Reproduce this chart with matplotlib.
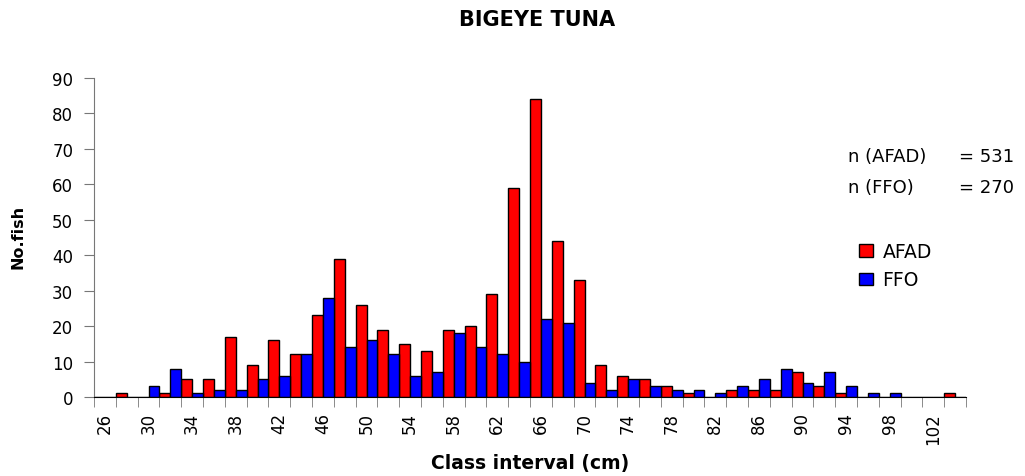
import numpy as np
import matplotlib
matplotlib.use('Agg')
import matplotlib.pyplot as plt

plt.rcParams['font.family'] = ['DejaVu Sans']

# class intervals (cm)
classes = list(range(26, 106, 2))

# counts per class
afad = [0, 1, 0, 1, 5, 5, 17, 9, 16, 12, 23, 39, 26, 19, 15, 13, 19, 20, 29, 59,
        84, 44, 33, 9, 6, 5, 3, 1, 0, 2, 2, 2, 7, 3, 1, 0, 0, 0, 0, 1]
ffo = [0, 0, 3, 8, 1, 2, 2, 5, 6, 12, 28, 14, 16, 12, 6, 7, 18, 14, 12, 10,
       22, 21, 4, 2, 5, 3, 2, 2, 1, 3, 5, 8, 4, 7, 3, 1, 1, 0, 0, 0]

x = np.arange(len(classes))

fig = plt.figure(figsize=(10.25, 4.77), dpi=100)
ax = fig.add_axes([94 / 1025, 79 / 477, 872 / 1025, 319 / 477])

w = 0.5
ax.bar(x - w / 2, afad, width=w, color='#FF0000', edgecolor='black', linewidth=1, label='AFAD')
ax.bar(x + w / 2, ffo, width=w, color='#0000FF', edgecolor='black', linewidth=1, label='FFO')

ax.set_xlim(-0.5, len(classes) - 0.5)
ax.set_ylim(0, 90)
ax.set_yticks(range(0, 91, 10))
ax.tick_params(axis='y', labelsize=12, length=7, color='#777777', pad=8)

# tick marks between categories, labels on every other category
ax.set_xticks(np.arange(-0.5, len(classes), 1), minor=True)
ax.set_xticks(x[::2])
ax.set_xticklabels([str(c) for c in classes[::2]], rotation=90, fontsize=12)
ax.tick_params(axis='x', which='major', length=0, pad=11)
ax.tick_params(axis='x', which='minor', length=7, color='#777777')

ax.spines['top'].set_visible(False)
ax.spines['right'].set_visible(False)
ax.spines['left'].set_color('#777777')
ax.spines['bottom'].set_color('black')

fig.text(18 / 1025, 1 - 237 / 477, 'No.fish', rotation=90, ha='center', va='center',
         fontsize=11.5, fontweight='bold')
fig.text(530 / 1025, 1 - 464 / 477, 'Class interval (cm)', ha='center', va='center',
         fontsize=13.5, fontweight='bold')
fig.text(537 / 1025, 1 - 20 / 477, 'BIGEYE TUNA', ha='center', va='center',
         fontsize=15, fontweight='bold')

fig.text(848 / 1025, 1 - 157 / 477, 'n (AFAD)', fontsize=13, va='center')
fig.text(1014 / 1025, 1 - 157 / 477, '= 531', fontsize=13, va='center', ha='right')
fig.text(848 / 1025, 1 - 188 / 477, 'n (FFO)', fontsize=13, va='center')
fig.text(1014 / 1025, 1 - 188 / 477, '= 270', fontsize=13, va='center', ha='right')

ax.legend(loc='upper left', bbox_to_anchor=(859 / 1025, 1 - 243 / 477),
          bbox_transform=fig.transFigure, frameon=False, fontsize=13.5,
          handlelength=0.75, handleheight=0.65, handletextpad=0.5, labelspacing=0.5,
          borderaxespad=0, borderpad=0)

fig.savefig('out.png', dpi=100)
